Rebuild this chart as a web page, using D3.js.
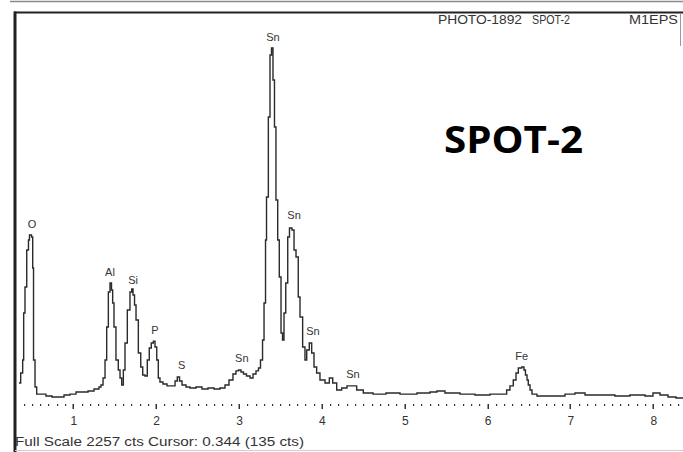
<!DOCTYPE html>
<html><head><meta charset="utf-8">
<script src="https://cdn.jsdelivr.net/npm/d3@7"></script>
<style>
html,body{margin:0;padding:0;background:#fff;}
svg{display:block;}
</style></head>
<body>
<script>
// Spectrum trace (energy in keV, counts)
const energy = [0.344,0.365,0.389,0.401,0.417,0.438,0.459,0.471,0.496,0.510,0.520,0.538,0.558,0.622,0.670,0.743,0.815,0.888,0.960,1.033,1.105,1.178,1.250,1.310,1.334,
1.359,1.383,1.403,1.423,1.443,1.461,1.475,1.491,1.515,1.543,1.564,1.584,1.604,
1.624,1.652,1.684,1.705,1.721,1.739,1.757,1.785,1.814,1.838,1.865,
1.893,1.917,1.941,1.966,1.986,2.007,2.026,2.046,2.082,2.131,2.179,2.228,2.255,2.282,2.312,2.360,2.408,2.481,2.553,2.626,2.698,2.770,2.831,2.879,2.927,2.963,2.994,3.024,3.054,3.090,3.133,3.169,3.205,3.235,3.259,3.284,3.302,3.320,3.332,3.354,3.374,3.392,3.410,3.428,3.446,3.467,3.486,3.507,3.525,3.543,3.564,3.588,3.609,3.639,3.664,3.688,3.715,3.736,3.768,3.796,3.817,3.848,3.877,3.905,3.937,3.977,4.038,4.090,4.131,4.179,4.239,4.303,4.364,4.420,4.500,4.617,4.774,4.943,5.148,5.305,5.389,5.486,5.667,5.848,6.029,6.150,6.230,6.270,6.310,6.343,6.371,6.412,6.439,6.457,6.476,6.491,6.512,6.536,6.596,6.753,6.934,7.055,7.176,7.356,7.537,7.718,7.900,7.996,8.081,8.177,8.274,8.358];
const counts = [135,196,276,564,724,951,1012,1043,1030,840,276,110,67,67,55,49,49,61,67,80,80,86,98,110,123,
166,276,478,693,748,705,626,478,276,215,166,123,215,
380,583,693,711,675,613,521,319,233,184,178,
276,350,380,392,356,276,166,141,129,117,117,147,172,147,123,110,104,110,98,104,98,104,123,153,190,209,215,202,190,178,166,190,209,227,276,399,626,1012,1276,1766,2147,2190,1993,1705,1257,1012,785,442,399,564,748,1030,1086,1073,951,908,662,540,356,276,337,380,319,233,196,153,135,166,135,92,104,117,117,92,74,67,74,67,74,80,86,74,67,61,67,67,92,117,153,196,227,233,215,184,153,123,92,67,55,55,67,74,61,61,55,61,55,74,61,49,43,43];

// Peak labels
const peakLabels = ["O","Al","Si","P","S","Sn","Sn","Sn","Sn","Sn","Fe"];
const peakEnergy = [0.502,1.443,1.721,1.986,2.309,3.034,3.410,3.664,3.893,4.376,6.412];
const peakCounts = [1110,815,766,460,245,288,2257,1165,450,188,300];

const tickValues = [1,2,3,4,5,6,7,8];
const fullScale = 2257;
const headerText = ["PHOTO-1892","SPOT-2","M1EPS"];
const footerText = "Full Scale 2257 cts Cursor: 0.344 (135 cts)";
const bigTitle = "SPOT-2";

const W = 683, H = 452;
const svg = d3.select("body").append("svg").attr("width", W).attr("height", H);

const x = d3.scaleLinear().domain([1, 8]).range([73.3, 653.3]);
const y = d3.scaleLinear().domain([0, fullScale]).range([405, 37]);

// frames
svg.append("line").attr("x1",10).attr("x2",W).attr("y1",1.5).attr("y2",1.5).attr("stroke","#8a8a8a").attr("stroke-width",1.5);
svg.append("line").attr("x1",14).attr("x2",W).attr("y1",12.5).attr("y2",12.5).attr("stroke","#222").attr("stroke-width",2);
svg.append("line").attr("x1",15).attr("x2",15).attr("y1",11.5).attr("y2",H).attr("stroke","#222").attr("stroke-width",3);
svg.append("line").attr("x1",680.5).attr("x2",680.5).attr("y1",13).attr("y2",46).attr("stroke","#999").attr("stroke-width",1);
svg.append("line").attr("x1",15).attr("x2",W).attr("y1",450.5).attr("y2",450.5).attr("stroke","#cfcfcf").attr("stroke-width",1);

// axis dotted
const minor = d3.range(4, 84).map(d => d/10);
const axisG = svg.append("g");
axisG.selectAll("rect.minor").data(minor.filter(d => Math.abs(d - Math.round(d)) > 0.01)).join("rect")
  .attr("x", d => Math.round(x(d))).attr("y", 404).attr("width", 1.2).attr("height", 2).attr("fill", "#333");
axisG.selectAll("rect.major").data(tickValues).join("rect")
  .attr("x", d => Math.round(x(d)) - 0.5).attr("y", 404).attr("width", 1.5).attr("height", 5).attr("fill", "#333");
const xAxis = d3.axisBottom(x).tickValues(tickValues).tickSize(0).tickPadding(0).tickFormat(d3.format("d"));
const ax = svg.append("g").attr("transform","translate(0,416)").call(xAxis);
ax.select(".domain").remove();
ax.selectAll("text").attr("font-family","Liberation Sans, Arial, sans-serif").attr("font-size",12).attr("fill","#333").attr("dy","0.71em");

// spectrum
const pts = energy.map((e,i) => [e, counts[i]]);
const line = d3.line().x(d => x(d[0])).y(d => y(d[1])).curve(d3.curveStepAfter);
svg.append("path").datum(pts).attr("d", line).attr("fill","none").attr("stroke","#2a2a2a").attr("stroke-width",1.4).attr("stroke-linejoin","miter");

// peak labels
svg.append("g").selectAll("text").data(peakLabels).join("text")
  .attr("x", (d,i) => x(peakEnergy[i])).attr("y", (d,i) => y(peakCounts[i]))
  .attr("text-anchor","middle").attr("dy","0.35em")
  .attr("font-family","Liberation Sans, Arial, sans-serif").attr("font-size",11).attr("fill","#333")
  .text(d => d);

// header
const hdrX = [438, 532, 629], hdrW = [84, 38, 49];
svg.append("g").selectAll("text").data(headerText).join("text")
  .attr("x",(d,i)=>hdrX[i]).attr("y",24)
  .attr("textLength",(d,i)=>hdrW[i]).attr("lengthAdjust","spacingAndGlyphs")
  .attr("font-family","Liberation Sans Narrow, Liberation Sans, Arial, sans-serif").attr("font-size",12).attr("fill","#333")
  .text(d=>d);

// footer
svg.append("text").attr("x",15).attr("y",446).attr("textLength",289).attr("lengthAdjust","spacingAndGlyphs")
  .attr("font-family","Liberation Sans Narrow, Liberation Sans, Arial, sans-serif").attr("font-size",12).attr("fill","#333")
  .text(footerText);

// big title
svg.append("text").attr("x",444).attr("y",153).attr("textLength",139).attr("lengthAdjust","spacingAndGlyphs")
  .attr("font-family","Open Sans, sans-serif").attr("font-weight","bold").attr("font-size",37).attr("fill","#000")
  .text(bigTitle);
</script>
</body></html>
